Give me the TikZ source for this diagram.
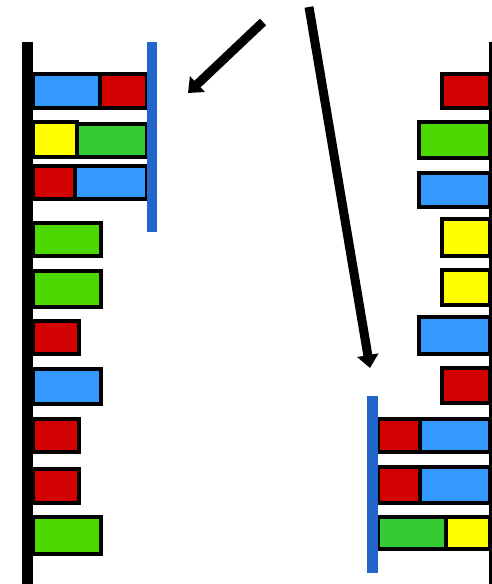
\documentclass[tikz,border=0pt]{standalone}
\usetikzlibrary{arrows.meta}
\definecolor{cblue}{RGB}{51,153,255}
\definecolor{cred}{RGB}{210,0,0}
\definecolor{cgreen}{RGB}{76,217,0}
\definecolor{cgreenb}{RGB}{51,204,51}
\definecolor{cyellow}{RGB}{255,255,0}
\definecolor{cbar}{RGB}{34,102,204}
\tikzset{
  box/.style={draw=black, line width=3.2pt, inner sep=0pt, outer sep=0pt, rectangle},
  backbone/.style={line width=#1, draw=black},
  bluebar/.style={line width=#1, draw=cbar},
  bigarrow/.style={line width=9pt, -{Triangle[length=13pt,width=21pt]}},
}
\newcommand{\bx}[7]{\node[box, fill=#2, minimum width=#5pt, minimum height=#6pt] (#1) at (#3,#4) {};}
\begin{document}
\begin{tikzpicture}[x=1pt,y=-1pt]
\useasboundingbox (0,0) rectangle (492,584);
% left strand boxes
\bx{L1a}{cblue}{66.5}{91}{67}{34}{}
\bx{L1b}{cred}{123.5}{91}{47}{34}{}
\bx{L2a}{cyellow}{55}{139.5}{44}{35}{}
\bx{L2b}{cgreenb}{112}{140.5}{70}{33}{}
\bx{L3a}{cred}{54}{182.5}{42}{33}{}
\bx{L3b}{cblue}{111}{182.5}{72}{33}{}
\bx{L4}{cgreen}{67}{239.5}{68}{33}{}
\bx{L5}{cgreen}{67}{289}{68}{36}{}
\bx{L6}{cred}{56}{337.5}{46}{33}{}
\bx{L7}{cblue}{67}{386.5}{68}{35}{}
\bx{L8}{cred}{56}{435.5}{46}{33}{}
\bx{L9}{cred}{56}{486}{46}{34}{}
\bx{L10}{cgreen}{67}{535.5}{68}{37}{}
% right strand boxes
\bx{R1}{cred}{466}{91}{48}{34}{}
\bx{R2}{cgreen}{454.5}{140}{71}{36}{}
\bx{R3}{cblue}{454.5}{190}{71}{34}{}
\bx{R4}{cyellow}{466}{237.5}{48}{37}{}
\bx{R5}{cyellow}{466}{287.5}{48}{35}{}
\bx{R6}{cblue}{454.5}{335.5}{71}{37}{}
\bx{R7}{cred}{466}{385.5}{48}{35}{}
\bx{R8a}{cred}{399}{435.5}{42}{33}{}
\bx{R8b}{cblue}{455}{435.5}{70}{33}{}
\bx{R9a}{cred}{399}{485}{42}{36}{}
\bx{R9b}{cblue}{455}{485}{70}{36}{}
\bx{R10a}{cgreenb}{412}{533}{68}{32}{}
\bx{R10b}{cyellow}{468}{533}{44}{32}{}
% backbones and new strands
\coordinate (lbt) at (27,42);
\coordinate (lbb) at (27,584);
\draw[backbone=11pt] (lbt) -- (lbb);
\coordinate (rbt) at (490.5,42);
\coordinate (rbb) at (490.5,584);
\draw[backbone=3pt] (rbt) -- (rbb);
\coordinate (lbar1) at (152,42);
\coordinate (lbar2) at (152,232);
\draw[bluebar=10pt] (lbar1) -- (lbar2);
\coordinate (rbar1) at (372.5,396);
\coordinate (rbar2) at (372.5,573);
\draw[bluebar=11pt] (rbar1) -- (rbar2);
% arrows
\coordinate (a1s) at (263,22);
\coordinate (a1e) at (188,93);
\draw[bigarrow] (a1s) -- (a1e);
\coordinate (a2s) at (309,7);
\coordinate (a2e) at (370,368);
\draw[bigarrow] (a2s) -- (a2e);
\end{tikzpicture}
\end{document}
